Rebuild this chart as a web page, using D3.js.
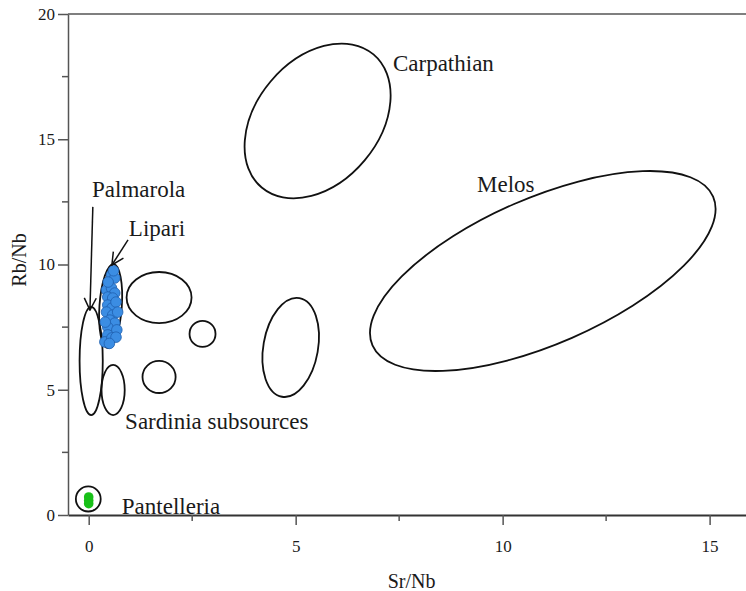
<!DOCTYPE html>
<meta charset="utf-8">
<style>
  body { margin: 0; background: #fff; }
  text { font-family: "Liberation Serif", "DejaVu Serif", serif; fill: #1a1a1a; }
  .axis path, .axis line { stroke: #555; stroke-width: 1.5px; }
  .field { fill: none; stroke: #111; stroke-width: 1.8px; }
</style>
<svg width="746" height="591"></svg>
<script src="https://cdn.jsdelivr.net/npm/d3@7"></script>
<script>
  // tick values
  var xMajor = [0, 5, 10, 15];
  var xMinor = [2.5, 7.5, 12.5];
  var yMajor = [0, 5, 10, 15, 20];
  var yMinor = [2.5, 7.5, 12.5, 17.5];

  // source fields (ellipses): centre, semi axes in data units, tilt in degrees
  var fieldName = ["Carpathian", "Melos", "Lipari", "Palmarola", "Sardinia A", "Sardinia B", "Sardinia C", "Sardinia D", "Field E", "Pantelleria"];
  var fieldX    = [5.53, 10.97, 0.53, 0.06, 0.59, 1.70, 2.75, 1.70, 4.88, -0.01];
  var fieldY    = [15.73, 9.74, 8.34, 6.15, 4.99, 8.68, 7.23, 5.51, 6.69, 0.64];
  var fieldRx   = [2.10, 4.49, 0.27, 0.28, 0.28, 0.785, 0.314, 0.40, 0.66, 0.30];
  var fieldRy   = [2.45, 2.91, 1.68, 2.16, 1.00, 1.02, 0.52, 0.64, 2.00, 0.50];
  var fieldTilt = [-50, -23.6, 4, 0, 0, 0, 0, 0, 10, 0];

  // artefacts matching Lipari
  var lipariX = [0.55, 0.63, 0.43, 0.55, 0.63, 0.46, 0.58, 0.46, 0.56, 0.43, 0.58, 0.51, 0.63, 0.46, 0.68, 0.46, 0.39, 0.56,
                 0.60, 0.47, 0.66, 0.40, 0.66, 0.50, 0.70];
  var lipariY = [9.58, 9.46, 8.98, 9.06, 8.86, 8.70, 8.66, 8.38, 8.26, 8.10, 7.98, 7.78, 7.66, 7.50, 7.39, 7.19, 6.91, 7.07,
                 9.75, 9.30, 8.50, 7.70, 7.10, 6.85, 8.10];

  // artefacts matching Pantelleria
  var pantX = [0.0, 0.0, 0.0];
  var pantY = [0.72, 0.58, 0.45];

  // labels and arrows
  var labelText = ["Carpathian", "Melos", "Palmarola", "Lipari", "Sardinia subsources", "Pantelleria"];
  var labelX = [7.35, 9.38, 0.08, 0.97, 0.88, 0.80];
  var labelY = [17.72, 12.89, 12.69, 11.14, 3.43, 0.03];
  var arrows = [
    {x1: 0.10, y1: 12.30, x2: 0.03, y2: 8.18},
    {x1: 0.95, y1: 10.98, x2: 0.56, y2: 9.98}
  ];

  var svg = d3.select("svg");
  var x = d3.scaleLinear().domain([-0.5, 16]).range([68, 751]);
  var y = d3.scaleLinear().domain([0, 20]).range([515, 14]);

  svg.append("defs").append("marker")
    .attr("id", "head")
    .attr("viewBox", "0 0 14 14")
    .attr("refX", 13).attr("refY", 7)
    .attr("markerWidth", 14).attr("markerHeight", 14)
    .attr("markerUnits", "userSpaceOnUse")
    .attr("orient", "auto")
    .append("path")
    .attr("d", "M1,1 L13,7 L1,13")
    .attr("fill", "none")
    .attr("stroke", "#111")
    .attr("stroke-width", 1.5);

  // x axis
  var gx = svg.append("g").attr("class", "axis").attr("transform", "translate(0," + y(0) + ")");
  gx.call(d3.axisBottom(x).tickValues(xMajor).tickSize(10).tickSizeOuter(0).tickPadding(15).tickFormat(d3.format("d")));
  gx.selectAll(".tick text").style("font-size", "17px").style("font-family", "Liberation Serif");
  gx.select(".domain").style("stroke", "#333").style("stroke-width", 2);
  gx.selectAll(".minor").data(xMinor).enter().append("line")
    .attr("x1", function(d) { return x(d); }).attr("x2", function(d) { return x(d); })
    .attr("y1", 0).attr("y2", 6);

  // y axis
  var gy = svg.append("g").attr("class", "axis").attr("transform", "translate(" + x(-0.5) + ",0)");
  gy.call(d3.axisLeft(y).tickValues(yMajor).tickSize(10).tickSizeOuter(0).tickPadding(3));
  gy.selectAll(".tick text").style("font-size", "17px").style("font-family", "Liberation Serif");
  gy.selectAll(".minor").data(yMinor).enter().append("line")
    .attr("y1", function(d) { return y(d); }).attr("y2", function(d) { return y(d); })
    .attr("x1", 0).attr("x2", -6);

  // top frame line
  svg.append("line").attr("class", "axis")
    .attr("x1", x(-0.5)).attr("x2", x(16)).attr("y1", y(20)).attr("y2", y(20))
    .style("stroke", "#555").style("stroke-width", 1.5);

  // axis titles
  svg.append("text").attr("x", x(7.8)).attr("y", 588)
    .attr("text-anchor", "middle").style("font-size", "20px").text("Sr/Nb");
  svg.append("text").attr("transform", "translate(26," + 260 + ") rotate(-90)")
    .attr("text-anchor", "middle").style("font-size", "20px").text("Rb/Nb");

  // fields
  svg.append("g").selectAll("ellipse")
    .data(fieldName)
    .enter().append("ellipse")
    .attr("class", "field")
    .attr("cx", function(d, i) { return x(fieldX[i]); })
    .attr("cy", function(d, i) { return y(fieldY[i]); })
    .attr("rx", function(d, i) { return x(fieldX[i] + fieldRx[i]) - x(fieldX[i]); })
    .attr("ry", function(d, i) { return y(fieldY[i]) - y(fieldY[i] + fieldRy[i]); })
    .attr("transform", function(d, i) {
      return "rotate(" + fieldTilt[i] + "," + x(fieldX[i]) + "," + y(fieldY[i]) + ")";
    });

  // points
  svg.append("g").selectAll("circle")
    .data(lipariX)
    .enter().append("circle")
    .attr("cx", function(d) { return x(d); })
    .attr("cy", function(d, i) { return y(lipariY[i]); })
    .attr("r", 5.3)
    .attr("fill", "#3b8de3")
    .attr("stroke", "#1f5fae")
    .attr("stroke-width", 0.8);

  svg.append("g").selectAll("circle")
    .data(pantX)
    .enter().append("circle")
    .attr("cx", function(d) { return x(d); })
    .attr("cy", function(d, i) { return y(pantY[i]); })
    .attr("r", 4.8)
    .attr("fill", "#18c018");

  // arrows
  svg.append("g").selectAll("line")
    .data(arrows)
    .enter().append("line")
    .attr("x1", function(d) { return x(d.x1); })
    .attr("y1", function(d) { return y(d.y1); })
    .attr("x2", function(d) { return x(d.x2); })
    .attr("y2", function(d) { return y(d.y2); })
    .attr("stroke", "#111")
    .attr("stroke-width", 1.5)
    .attr("marker-end", "url(#head)");

  // labels
  svg.append("g").selectAll("text")
    .data(labelText)
    .enter().append("text")
    .attr("x", function(d, i) { return x(labelX[i]); })
    .attr("y", function(d, i) { return y(labelY[i]); })
    .style("font-size", "23px")
    .text(function(d) { return d; });
</script>
